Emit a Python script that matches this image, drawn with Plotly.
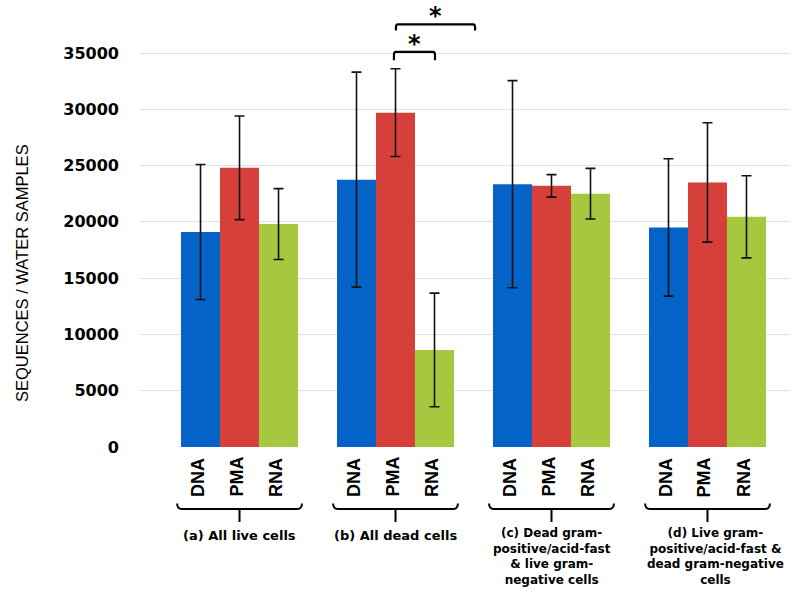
import plotly.graph_objects as go

# ---------------- data ----------------
group_labels = [
    "(a) All live cells",
    "(b) All dead cells",
    "(c) Dead gram-<br>positive/acid-fast<br>& live gram-<br>negative cells",
    "(d) Live gram-<br>positive/acid-fast &<br>dead gram-negative<br>cells",
]
methods = ["DNA", "PMA", "RNA"]
dna = [19100, 23750, 23350, 19500]
dna_err = [6000, 9550, 9200, 6100]
pma = [24800, 29700, 23200, 23500]
pma_err = [4600, 3900, 1000, 5300]
rna = [19800, 8620, 22500, 20450]
rna_err = [3150, 5050, 2250, 3650]
y_ticks = [0, 5000, 10000, 15000, 20000, 25000, 30000, 35000]
y_tick_labels = ["0", "5000", "10000", "15000", "20000", "25000", "30000", "35000"]
y_title = "SEQUENCES / WATER SAMPLES"
# significance comparisons: (x start, x end, bracket level, leg end, label)
sig_brackets = [(0.99, 1.253, 35100, 34350, "*"), (1.003, 1.51, 37550, 37000, "*")]

colors = ["#0563C8", "#D63F3A", "#A5C83F"]
series = [dna, pma, rna]
errors = [dna_err, pma_err, rna_err]
xs = list(range(len(group_labels)))

fig = go.Figure()
for name, vals, err, col in zip(methods, series, errors, colors):
    fig.add_trace(go.Bar(
        x=xs, y=vals, name=name,
        marker=dict(color=col, line=dict(width=0)),
        error_y=dict(type="data", array=err, color="#111111", thickness=1.6, width=5),
    ))

BOLD = dict(family="DejaVu Sans", weight="bold", color="black")
ARIALB = dict(family="Liberation Sans, Arial", weight="bold", color="black")

annotations = []
shapes = []
offsets = [-0.25, 0.0, 0.25]
PLOT_H = 447.0

def py(px):
    return (PLOT_H - px) / PLOT_H

for g in xs:
    # method labels (rotated)
    for m, off in zip(methods, offsets):
        annotations.append(dict(
            x=g + off, xref="x", y=0, yref="paper", text=m, textangle=-90,
            showarrow=False, xanchor="center", yanchor="bottom", yshift=-52,
            xshift=-3, font=dict(size=18, **ARIALB)))
    # brace
    x0, x1 = g - 0.40, g + 0.40
    yh, yl, ys = py(503.5), py(509), py(522)
    shapes.append(dict(
        type="path", xref="x", yref="paper",
        path=f"M {x0},{yh} Q {x0},{yl} {x0+0.03},{yl} L {x1-0.03},{yl} Q {x1},{yl} {x1},{yh}",
        line=dict(color="black", width=2)))
    shapes.append(dict(type="line", xref="x", yref="paper", x0=g, x1=g, y0=yl, y1=ys,
                       line=dict(color="black", width=2)))
    # group labels
    multi = "<br>" in group_labels[g]
    annotations.append(dict(
        x=g, xref="x", y=0, yref="paper", text=group_labels[g], showarrow=False,
        xanchor="center", yanchor="top", yshift=-((524 if multi else 526) - PLOT_H),
        xshift=8 if g == 3 else 0, align="center",
        font=dict(size=12 if multi else 13, **BOLD)))

# significance brackets
for (a, b, yt, yb, lab) in sig_brackets:
    r = 0.012
    shapes.append(dict(
        type="path", xref="x", yref="y",
        path=f"M {a},{yb} L {a},{yt-250} Q {a},{yt} {a+r},{yt} L {b-r},{yt} Q {b},{yt} {b},{yt-250} L {b},{yb}",
        line=dict(color="black", width=2.2)))
    annotations.append(dict(
        x=(a + b) / 2, xref="x", y=yt, yref="y", text=lab, showarrow=False,
        xanchor="center", yanchor="bottom", yshift=-8,
        font=dict(size=24, **BOLD)))

# y-axis title
annotations.append(dict(
    x=(22 - 140) / 650, xref="paper", y=py(273), yref="paper", text=y_title,
    textangle=-90, showarrow=False, xanchor="center", yanchor="middle",
    font=dict(family="Liberation Sans, Arial", size=16.5, color="black")))

fig.update_layout(
    width=802, height=592,
    margin=dict(l=140, r=12, t=0, b=145),
    paper_bgcolor="white", plot_bgcolor="white",
    barmode="group", bargap=0.25, bargroupgap=0,
    showlegend=False,
    annotations=annotations, shapes=shapes,
    xaxis=dict(range=[-0.638, 3.529], showticklabels=False, showgrid=False,
               zeroline=False, showline=False, ticks=""),
    yaxis=dict(range=[0, 39708], tickvals=y_ticks, ticktext=y_tick_labels,
               showgrid=True, gridcolor="#e2e2e2", gridwidth=1, zeroline=False,
               showline=False, ticks="", ticklabelstandoff=20,
               tickfont=dict(size=16, **BOLD)),
)

fig.write_html("out.html", config={"displayModeBar": False},
               post_script="document.body.style.margin='0px';")
